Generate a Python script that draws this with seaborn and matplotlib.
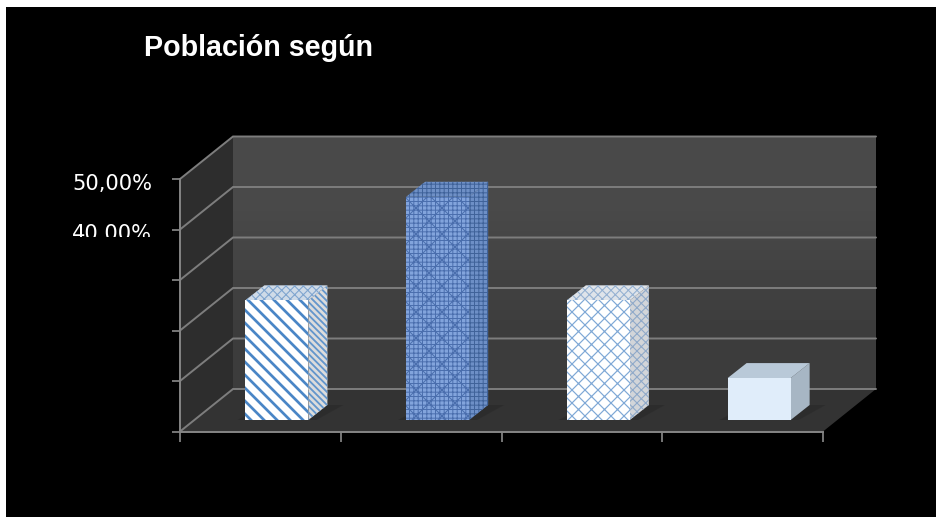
import matplotlib
matplotlib.use("Agg")
import matplotlib.pyplot as plt
import seaborn as sns
import pandas as pd
from matplotlib.patches import Polygon, Rectangle
from matplotlib.transforms import Affine2D

# ---- data ----
categories = ["Grupo 1", "Grupo 2", "Grupo 3", "Grupo 4"]
values = [23.7, 44.2, 23.7, 8.3]
y_ticks = [0, 10, 20, 30, 40, 50]
y_tick_labels = ["", "", "", "", "40,00%", "50,00%"]
title_text = "Población según"

# ---- styles ----
front_colors = ["#ffffff", "#82a4dc", "#ffffff", "#e0edfa"]
front_hatch = ["\\\\", "+++x", "xx", ""]
front_hatch_col = ["#4a86c6", "#4a6ead", "#7fa8d6", "#e0edfa"]
front_hatch_lw = [2.5, 0.9, 1.1, 0.5]
side_colors = ["#dcdcdc", "#6d8fc6", "#d2d5d9", "#a7b6c4"]
side_hatch = ["\\\\\\\\", "+++", "xxx", ""]
side_hatch_col = ["#6396cc", "#3f6299", "#8fa9c9", "#a7b6c4"]
side_hatch_lw = [1.7, 0.9, 1.0, 0.5]
top_colors = ["#cfdbe8", "#6f90c6", "#dfe4ea", "#b9c9d8"]
top_hatch = ["xxx", "+++", "xxx", ""]
top_hatch_col = ["#7fa5cf", "#3f6299", "#95b1d2", "#b9c9d8"]
top_hatch_lw = [1.0, 0.9, 1.0, 0.5]

W, H, DPI = 936, 517, 78
L, R, B, T = 180, 823, 431.5, 179      # front plane, pixels from top-left
WALL_DX, WALL_DY = 53, 42.5            # depth of the chart box, pixels
BAR_OX, BAR_OY = 16.5, 11.5            # bars stand inside the floor
BAR_DX, BAR_DY = 19, 15                # depth of one bar, pixels


def pos(l, r, b, t):
    return [l / W, 1 - b / H, (r - l) / W, (b - t) / H]


sns.set_theme(style="dark")
fig = plt.figure(figsize=(W / DPI, H / DPI), dpi=DPI, facecolor="white")
fig.add_artist(Rectangle((6 / W, 0), 1, 1 - 7 / H, transform=fig.transFigure,
                         facecolor="black", edgecolor="none", zorder=-10))

ax = fig.add_axes(pos(L, R, B, T))
ax.patch.set_alpha(0)
ax.set_xlim(-0.5, 3.5)
ax.set_ylim(0, 50)
px_x = 4 / (R - L)
px_y = 50 / (B - T)
wx, wy = WALL_DX * px_x, WALL_DY * px_y

# back wall with its soft gradient, side wall, floor
wall = fig.add_axes(pos(L + WALL_DX, R + WALL_DX, B - WALL_DY, T - WALL_DY), zorder=-1)
wall.imshow([[0.29], [0.24]], cmap="gray", vmin=0, vmax=1, aspect="auto",
            interpolation="bilinear", extent=(0, 1, 0, 1))
wall.axis("off")
ax.add_patch(Polygon([(-0.5, 0), (-0.5 + wx, wy), (-0.5 + wx, 50 + wy), (-0.5, 50)],
                     closed=True, fc="#2d2d2d", ec="none", clip_on=False, zorder=0))
ax.add_patch(Polygon([(-0.5, 0), (3.5, 0), (3.5 + wx, wy), (-0.5 + wx, wy)],
                     closed=True, fc="#333333", ec="none", clip_on=False, zorder=0))

# gridlines run along the side wall and the back wall
for v in y_ticks:
    ax.plot([-0.5, -0.5 + wx, 3.5 + wx], [v, v + wy, v + wy], color="#7d7d7d",
            lw=1.8, clip_on=False, zorder=1, solid_joinstyle="miter")

# axes
for s in ["top", "right"]:
    ax.spines[s].set_visible(False)
for s in ["left", "bottom"]:
    ax.spines[s].set_color("#858585")
    ax.spines[s].set_linewidth(1.8)
    ax.spines[s].set_zorder(2)
ax.set_xticks([-0.5, 0.5, 1.5, 2.5, 3.5])
ax.set_xticklabels([])
ax.set_yticks(y_ticks)
ax.set_yticklabels(y_tick_labels, fontsize=19.4, color="white",
                   fontfamily="DejaVu Sans")
ax.tick_params(axis="x", length=9, width=1.6, color="#858585", bottom=True)
ax.tick_params(axis="y", length=7.5, width=1.6, color="#858585", left=True, pad=18)
ax.grid(False)
for lab in ax.get_yticklabels():
    lab.set_transform(lab.get_transform() + Affine2D().translate(0, -2.5))
# the 40,00% label is cut off at its lower edge in the original
fig.add_artist(Rectangle((60 / W, 1 - 246 / H), 110 / W, 9 / H, transform=fig.transFigure,
                         facecolor="black", edgecolor="none", zorder=20))

# bars
bx = fig.add_axes(pos(L + BAR_OX, R + BAR_OX, B - BAR_OY, T - BAR_OY), zorder=3)
bx.patch.set_alpha(0)
df = pd.DataFrame({"cat": categories, "val": values})
sns.barplot(data=df, x="cat", y="val", hue="cat", palette=front_colors, legend=False,
            width=0.392, ax=bx, saturation=1)
bx.set_xlim(-0.5, 3.5)
bx.set_ylim(0, 50)
bx.axis("off")

dx, dy = BAR_DX * px_x, BAR_DY * px_y


def set_hatch_lw(p, lw):
    if hasattr(p, "set_hatch_linewidth"):
        p.set_hatch_linewidth(lw)
    else:
        p._hatch_linewidth = lw


def face(verts, fc, hatch, hc, lw):
    p = Polygon(verts, closed=True, facecolor=fc, edgecolor=hc, hatch=hatch or None,
                linewidth=0, clip_on=False, zorder=1)
    set_hatch_lw(p, lw)
    bx.add_patch(p)


bars = sorted(bx.patches, key=lambda r: r.get_x())
for i, rect in enumerate(bars):
    x0, x1 = rect.get_x(), rect.get_x() + rect.get_width()
    h = rect.get_height()
    # soft floor shadow
    bx.add_patch(Polygon([(x0 - 0.05, 0), (x1 + 0.05, 0), (x1 + dx + 0.1, dy), (x0 + dx, dy)],
                         closed=True, fc="#272727", ec="none", alpha=0.5,
                         clip_on=False, zorder=0))
    face([(x1, 0), (x1 + dx, dy), (x1 + dx, h + dy), (x1, h)],
         side_colors[i], side_hatch[i], side_hatch_col[i], side_hatch_lw[i])
    face([(x0, h), (x1, h), (x1 + dx, h + dy), (x0 + dx, h + dy)],
         top_colors[i], top_hatch[i], top_hatch_col[i], top_hatch_lw[i])
    rect.set_edgecolor(front_hatch_col[i])
    rect.set_linewidth(0)
    if front_hatch[i]:
        rect.set_hatch(front_hatch[i])
    set_hatch_lw(rect, front_hatch_lw[i])
    rect.set_zorder(2)

fig.text(144 / W, 1 - 56 / H, title_text, color="white", fontsize=26.4, fontweight="bold",
         fontfamily="Liberation Sans", ha="left", va="baseline")

fig.savefig("out.png", dpi=DPI, facecolor=fig.get_facecolor())
